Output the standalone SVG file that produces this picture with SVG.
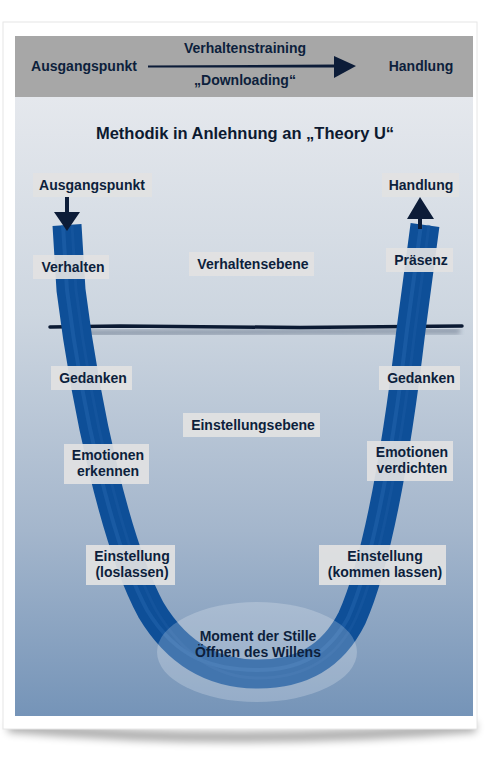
<svg xmlns="http://www.w3.org/2000/svg" width="490" height="767" viewBox="0 0 490 767">
<defs>
<linearGradient id="panel" x1="0" y1="0" x2="0" y2="1">
<stop offset="0" stop-color="#e5e8ed"/>
<stop offset="0.35" stop-color="#cdd6e0"/>
<stop offset="0.7" stop-color="#a4b6cc"/>
<stop offset="1" stop-color="#7594b8"/>
</linearGradient>
<filter id="blur4" x="-20%" y="-50%" width="140%" height="200%"><feGaussianBlur stdDeviation="4"/></filter>
<filter id="blur2" x="-10%" y="-100%" width="120%" height="300%"><feGaussianBlur stdDeviation="2.5"/></filter>
<style>
.lbl{font-family:"Liberation Sans",Arial,sans-serif;font-weight:bold;font-size:14px;fill:#0d1f3c;text-anchor:middle}
.box{fill:#e2e2e2;opacity:0.92}
.title{font-family:"Liberation Sans",Arial,sans-serif;font-weight:bold;font-size:16.5px;fill:#0d1a30;text-anchor:middle}
.ink{fill:#0c1c38}
</style>
</defs>
<rect width="490" height="767" fill="#ffffff"/>
<!-- card shadow -->
<path d="M8,722 Q240,742 476,722 L476,732 Q240,752 8,732 Z" fill="#000" opacity="0.35" filter="url(#blur4)"/>
<rect x="3" y="22" width="474" height="707" fill="#ffffff"/>
<rect x="3" y="22" width="474" height="707" fill="none" stroke="#e6e6e6" stroke-width="1"/>
<!-- header band -->
<g id="header">
<rect x="15" y="36" width="458" height="61" fill="#a7a7a7"/>
<text class="lbl" x="84" y="71">Ausgangspunkt</text>
<text class="lbl" x="245" y="53">Verhaltenstraining</text>
<text class="lbl" x="245" y="85">„Downloading“</text>
<text class="lbl" x="421" y="71">Handlung</text>
<path d="M148,65.5 L336,64.5 L336,67.5 L148,67.5 Z" class="ink"/>
<path d="M334,56 L356,66 L334,78 Z" class="ink"/>
</g>
<!-- main panel -->
<rect x="15" y="97" width="458" height="619" fill="url(#panel)"/>
<text class="title" x="245" y="139">Methodik in Anlehnung an „Theory U“</text>
<!-- horizontal divider -->
<g id="divider">
<path d="M70,333 L460,331" stroke="#1a2d4a" stroke-width="6" opacity="0.35" filter="url(#blur2)" fill="none"/>
<path d="M50,327 L120,326 L300,327.5 L462,326" stroke="#0b1a33" stroke-width="3.5" fill="none" stroke-linecap="round"/>
</g>
<!-- U shape -->
<g id="connectors">
<path d="M67,225 L71,290 C86,410 116,545 151,610 C181,660 220,674 258,674 C300,674 332,658 352,618 C380,555 398,440 411,330 L425,225" fill="none" stroke="#0e4f98" stroke-width="29"/>
<path d="M63,225 L67,290 C82,410 112,545 147,610 C177,660 216,670 258,670 C300,670 328,654 348,618 C376,555 394,440 407,330 L421,225" fill="none" stroke="#2466ad" stroke-width="4" opacity="0.5"/>
<path d="M72,225 L76,290 C91,410 121,545 156,610 C186,660 222,678 258,678 C300,678 336,662 356,618 C384,555 402,440 415,330 L429,225" fill="none" stroke="#1a5aa2" stroke-width="3" opacity="0.5"/>
<!-- arrowheads -->
<path d="M65,197 L69,197 L69,212 L80,212 L67,231 L54,212 L65,212 Z" class="ink"/>
<path d="M407,219 L420,197 L434,219 L422,219 L422,229 L418,229 L418,219 Z" class="ink"/>
</g>
<!-- ellipse -->
<g id="stille">
<ellipse cx="257" cy="652" rx="100" ry="50" fill="#ffffff" opacity="0.22"/>
<text class="lbl" x="258" y="641">Moment der Stille</text>
<text class="lbl" x="258" y="657">Öffnen des Willens</text>
</g>
<g id="n-ausgangspunkt"><rect class="box" x="33" y="173" width="119" height="24"/><text class="lbl" x="92" y="190">Ausgangspunkt</text></g>
<g id="n-handlung"><rect class="box" x="382" y="173" width="77" height="24"/><text class="lbl" x="421" y="190">Handlung</text></g>
<g id="n-verhalten"><rect class="box" x="33" y="255" width="76" height="24"/><text class="lbl" x="73" y="272">Verhalten</text></g>
<g id="n-verhaltensebene"><rect class="box" x="189" y="252" width="125" height="24"/><text class="lbl" x="253" y="269">Verhaltensebene</text></g>
<g id="n-praesenz"><rect class="box" x="386" y="248" width="67" height="24"/><text class="lbl" x="421" y="265">Präsenz</text></g>
<g id="n-gedanken-l"><rect class="box" x="51" y="366" width="81" height="24"/><text class="lbl" x="93" y="383">Gedanken</text></g>
<g id="n-gedanken-r"><rect class="box" x="379" y="366" width="81" height="24"/><text class="lbl" x="421" y="383">Gedanken</text></g>
<g id="n-einstellungsebene"><rect class="box" x="183" y="413" width="137" height="24"/><text class="lbl" x="253" y="430">Einstellungsebene</text></g>
<g id="n-emotionen-l"><rect class="box" x="64" y="444" width="85" height="40"/><text class="lbl" x="108" y="460">Emotionen</text><text class="lbl" x="108" y="476">erkennen</text></g>
<g id="n-emotionen-r"><rect class="box" x="367" y="441" width="86" height="40"/><text class="lbl" x="412" y="457">Emotionen</text><text class="lbl" x="412" y="473">verdichten</text></g>
<g id="n-einstellung-l"><rect class="box" x="86" y="545" width="89" height="40"/><text class="lbl" x="132" y="561">Einstellung</text><text class="lbl" x="132" y="577">(loslassen)</text></g>
<g id="n-einstellung-r"><rect class="box" x="319" y="545" width="127" height="40"/><text class="lbl" x="385" y="561">Einstellung</text><text class="lbl" x="385" y="577">(kommen lassen)</text></g>
</svg>
